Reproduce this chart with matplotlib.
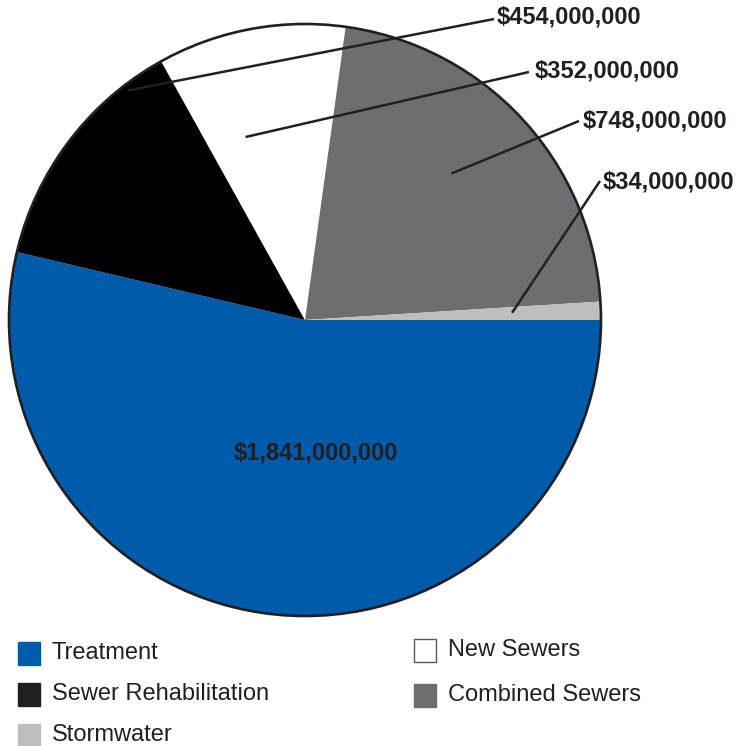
import matplotlib
matplotlib.use('Agg')
import matplotlib.pyplot as plt
from matplotlib.patches import Circle, Rectangle
import numpy as np

plt.rcParams['font.family'] = ['Liberation Sans', 'DejaVu Sans']

categories = ['Treatment', 'Sewer Rehabilitation', 'New Sewers', 'Combined Sewers', 'Stormwater']
amounts = [1841000000, 454000000, 352000000, 748000000, 34000000]
colors = ['#005baa', '#000000', '#ffffff', '#6d6e71', '#bcbec0']
legend_colors = ['#005baa', '#231f20', '#ffffff', '#6d6e71', '#bcbec0']

W, H = 737, 746
cx, cy, R = 305, H - 320, 296

fig = plt.figure(figsize=(W / 100, H / 100), dpi=100)
ax = fig.add_axes([0, 0, 1, 1])

wedges, _ = ax.pie(amounts, colors=colors, startangle=0, counterclock=False,
                   center=(cx, cy), radius=R, frame=True,
                   wedgeprops=dict(linewidth=0))
ax.add_patch(Circle((cx, cy), R, fill=False, edgecolor='#231f20', lw=1.9, zorder=3))

def money(v):
    return '${:,}'.format(v)

# leader-line anchors (angle in degrees, fraction of radius) and text positions
anchor = {1: (127.7, 0.98), 2: (108, 0.65), 3: (45, 0.70), 4: (2, 0.70)}
text_pos = {1: (497, 17), 2: (535, 71), 3: (583, 121), 4: (603, 182)}
line_end = {1: (494, 19), 2: (529, 72), 3: (579, 121), 4: (600, 181)}

for i in range(1, 5):
    ang, fr = anchor[i]
    ax_ = cx + fr * R * np.cos(np.radians(ang))
    ay_ = cy + fr * R * np.sin(np.radians(ang))
    lx, ly = line_end[i]
    ax.plot([ax_, lx], [ay_, H - ly], color='#231f20', lw=1.8, zorder=4,
            solid_capstyle='butt')
    tx, ty = text_pos[i]
    ax.text(tx, H - ty, money(amounts[i]), fontsize=17, fontweight='bold',
            ha='left', va='center', color='#231f20', zorder=5)

ax.text(316, H - 453, money(amounts[0]), fontsize=17, fontweight='bold',
        ha='center', va='center', color='#231f20', zorder=5)

# legend, two columns
legend_layout = {0: (18, 653), 1: (18, 694), 4: (18, 735), 2: (414, 650), 3: (414, 695)}
for i, (x, y) in legend_layout.items():
    ec = '#58595b' if colors[i] == '#ffffff' else legend_colors[i]
    ax.add_patch(Rectangle((x, H - y - 11.5), 22, 23, facecolor=legend_colors[i],
                           edgecolor=ec, lw=1.0))
    ax.text(x + 34, H - y, categories[i], fontsize=17, ha='left', va='center',
            color='#231f20')

ax.set_xlim(0, W)
ax.set_ylim(0, H)
ax.set_aspect('equal')
ax.axis('off')

fig.savefig('out.png', dpi=100)
